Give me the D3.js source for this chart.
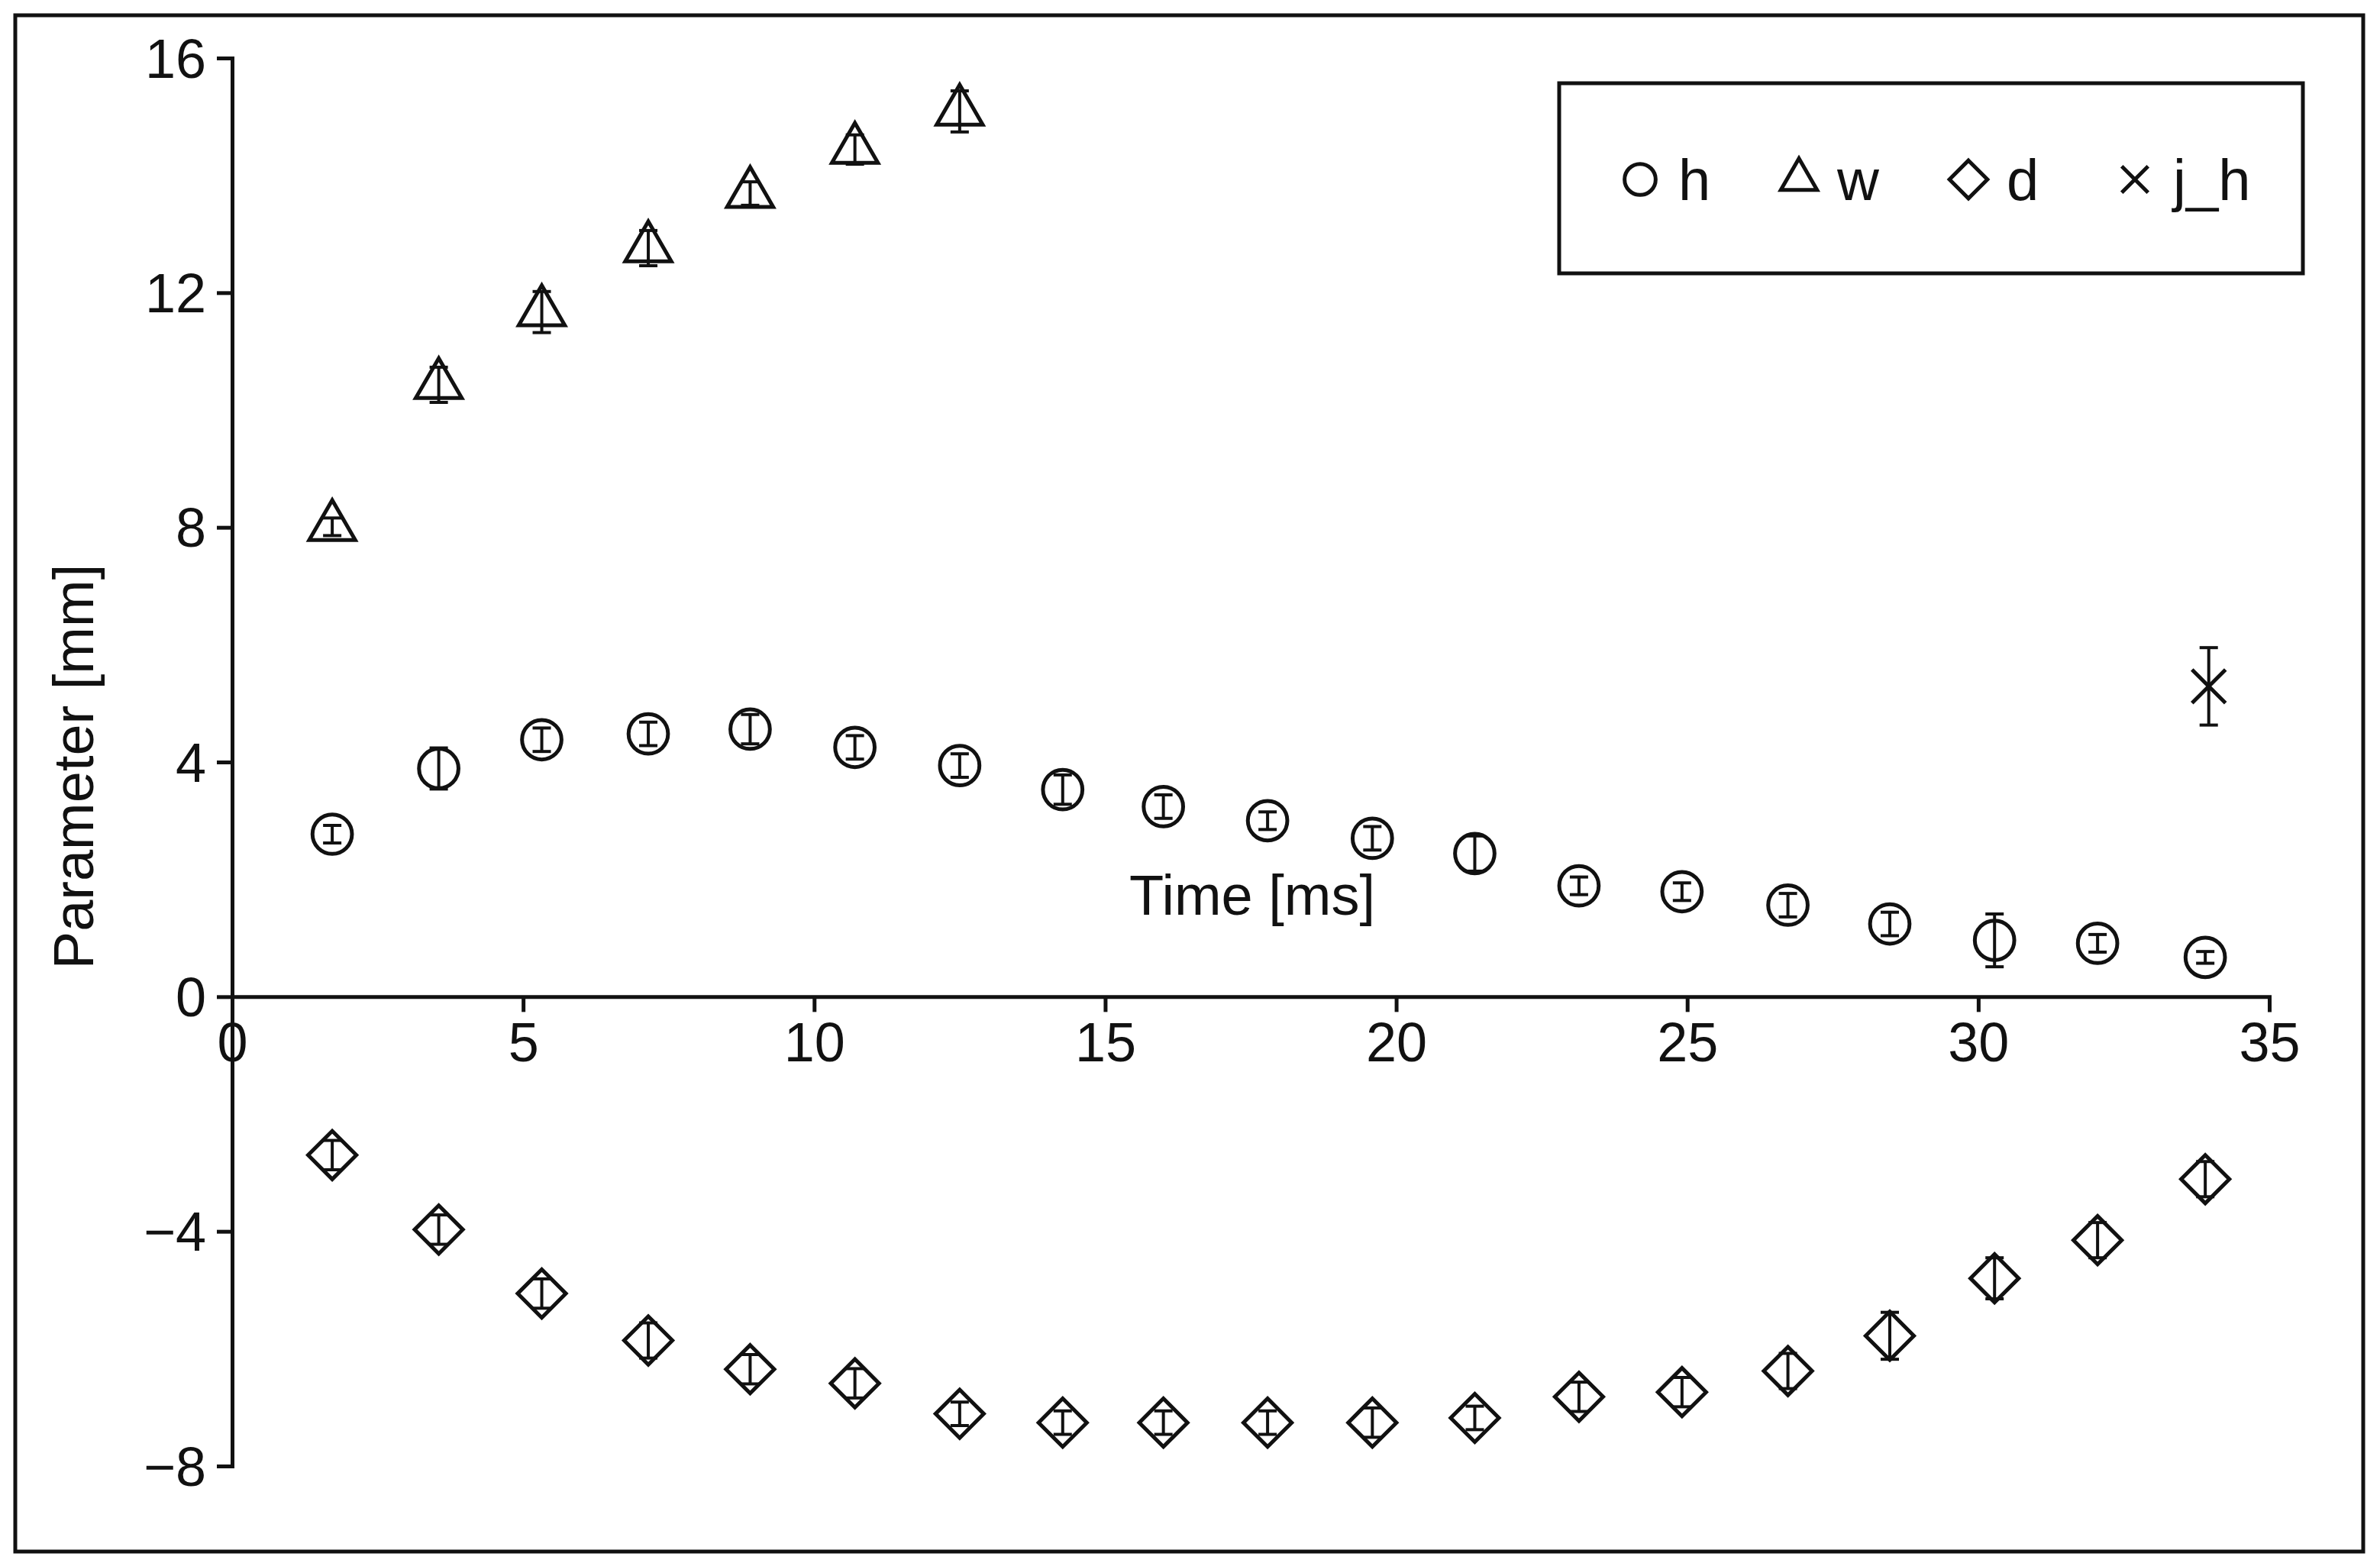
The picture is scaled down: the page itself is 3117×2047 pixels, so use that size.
<!DOCTYPE html>
<html><head><meta charset="utf-8">
<script src="https://cdn.jsdelivr.net/npm/d3@7"></script>
<style>body{margin:0;background:#fff}text{font-family:"Liberation Sans",Arial,sans-serif;fill:#111}</style>
</head><body><svg id="c" width="3117" height="2047"></svg>
<script>
const time = [1.72,3.55,5.32,7.15,8.9,10.7,12.5,14.27,16.0,17.79,19.59,21.35,23.14,24.91,26.73,28.48,30.28,32.05,33.9];
const hVal = [2.77,3.89,4.38,4.48,4.56,4.25,3.94,3.53,3.24,3.0,2.70,2.44,1.89,1.79,1.56,1.24,0.96,0.91,0.67];
const hErr = [0.15,0.35,0.2,0.2,0.25,0.2,0.2,0.25,0.2,0.15,0.2,0.3,0.15,0.15,0.2,0.2,0.45,0.15,0.1];
const wVal = [8.01,10.43,11.67,12.76,13.69,14.44,15.09];
const wErr = [0.15,0.3,0.35,0.3,0.2,0.25,0.35];
const dVal = [-2.70,-3.97,-5.06,-5.86,-6.35,-6.59,-7.11,-7.26,-7.26,-7.26,-7.26,-7.18,-6.82,-6.74,-6.38,-5.78,-4.80,-4.15,-3.11];
const dErr = [0.25,0.25,0.25,0.3,0.25,0.25,0.2,0.2,0.2,0.2,0.25,0.2,0.25,0.25,0.3,0.4,0.35,0.3,0.3];
const jhTime = [33.96], jhVal = [5.29], jhErr = [0.66];
const xTicks = [0,5,10,15,20,25,30,35];
const yTicks = [-8,-4,0,4,8,12,16];

const svg = d3.select('#c');
svg.append('rect').attr('x',20).attr('y',20).attr('width',3075).attr('height',2012)
  .attr('fill','none').attr('stroke','#111').attr('stroke-width',5);

const x = d3.scaleLinear().domain([0,35]).range([304,2972]);
const y = d3.scaleLinear().domain([-8,16]).range([1920,76]);

const fs = 72;
const xAxis = svg.append('g').attr('transform',`translate(0,${y(0)})`)
  .call(d3.axisBottom(x).tickValues(xTicks).tickSize(20).tickPadding(14));
const yAxis = svg.append('g').attr('transform',`translate(${x(0)},0)`)
  .call(d3.axisLeft(y).tickValues(yTicks).tickSize(20).tickPadding(14).tickFormat(d => d < 0 ? '\u2212' + (-d) : d));
[xAxis, yAxis].forEach(a => {
  a.select('.domain').attr('stroke','#111').attr('stroke-width',5);
  a.selectAll('.tick line').attr('stroke','#111').attr('stroke-width',5);
  a.selectAll('text').attr('font-size',fs).attr('fill','#111').style('font-family','"Liberation Sans",Arial,sans-serif');
});
yAxis.selectAll('.tick text').attr('dy','0.35em');

svg.append('text').attr('x',1640).attr('y',1198).attr('text-anchor','middle').attr('font-size',fs+2).text('Time [ms]');
svg.append('text').attr('transform','translate(122,1004) rotate(-90)').attr('text-anchor','middle').attr('font-size',fs+2).text('Parameter [mm]');

const diamond = size => () => { const r = Math.sqrt(size)/2*1.414; return `M0,${-r}L${r},0L0,${r}L${-r},0Z`; };
const sym = {
  h: size => d3.symbol(d3.symbolCircle, size),
  w: size => d3.symbol(d3.symbolTriangle, size*0.75),
  d: size => diamond(size*0.95),
  j: size => d3.symbol(d3.symbolTimes, size*0.6)
};

function series(xs, vs, es, key) {
  const g = svg.append('g');
  const s = sym[key](2100);
  xs.forEach((t,i) => {
    const cx = x(t), cy = y(vs[i]), y1 = y(vs[i]+es[i]), y2 = y(vs[i]-es[i]);
    g.append('line').attr('x1',cx).attr('x2',cx).attr('y1',y1).attr('y2',y2).attr('stroke','#111').attr('stroke-width',4);
    [y1,y2].forEach(yy => g.append('line').attr('x1',cx-12).attr('x2',cx+12).attr('y1',yy).attr('y2',yy).attr('stroke','#111').attr('stroke-width',4));
    g.append('path').attr('d',s()).attr('transform',`translate(${cx},${cy})`)
      .attr('fill','none').attr('stroke','#111').attr('stroke-width',5);
  });
}
series(time, hVal, hErr, 'h');
series(time.slice(0, wVal.length), wVal, wErr, 'w');
series(time, dVal, dErr, 'd');
series(jhTime, jhVal, jhErr, 'j');

// legend
const lg = svg.append('g');
lg.append('rect').attr('x',2042).attr('y',109).attr('width',974).attr('height',249)
  .attr('fill','#fff').attr('stroke','#111').attr('stroke-width',5);
const legendItems = [['h','h',2148],['w','w',2356],['d','d',2578],['j','j_h',2796]];
legendItems.forEach(([k,label,lx]) => {
  lg.append('path').attr('d',sym[k](1300)()).attr('transform',`translate(${lx},235)`)
    .attr('fill','none').attr('stroke','#111').attr('stroke-width',5);
  lg.append('text').attr('x',lx+50).attr('y',235).attr('dy','0.35em').attr('font-size',fs+4).text(label);
});
</script></body></html>
